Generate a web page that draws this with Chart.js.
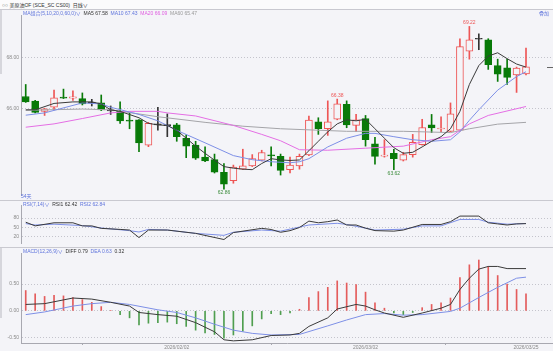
<!DOCTYPE html>
<html>
<head>
<meta charset="utf-8">
<script src="https://cdn.jsdelivr.net/npm/chart.js@4.4.1/dist/chart.umd.min.js"></script>
<style>
  body { margin:0; width:553px; height:351px; overflow:hidden; position:relative; background:#f4f4f8;
         font-family:"Liberation Sans","Noto Sans CJK SC",sans-serif; }
  canvas { position:absolute; left:0; }
  .t { position:absolute; font-size:5px; line-height:6px; white-space:nowrap; }
  .hl { position:absolute; left:0; width:553px; height:1px; background:#c9c9d0; }
  .blue { color:#5f74dc; } .dark { color:#333; } .mag { color:#e060e0; } .gray { color:#999; }
</style>
</head>
<body>
<div style="position:absolute;left:0;top:0;width:553px;height:9px;background:#fbfbfc"></div>
<div class="hl" style="top:9px"></div>
<div class="hl" style="top:200px"></div>
<div class="hl" style="top:247px"></div>
<div style="position:absolute;left:0;top:10px;width:2px;height:64px;background:#d6d6dc"></div>
<div style="position:absolute;left:0;top:248px;width:2px;height:70px;background:#d6d6dc"></div>

<canvas id="main" width="553" height="190" style="top:10px"></canvas>
<canvas id="rsi" width="553" height="48" style="top:200px"></canvas>
<canvas id="macd" width="553" height="103" style="top:248px"></canvas>

<div class="t dark" style="left:2px;top:2px">○○ 美原油OF (SCE_SC CS00) &nbsp;日线∨</div>
<div class="t" style="left:23px;top:10px"><span class="blue">MA组合(5,10,20,0,60,0)∨</span>&nbsp; <span class="dark">MA5 67.58</span>&nbsp; <span class="blue">MA10 67.43</span>&nbsp; <span class="mag">MA20 66.09</span>&nbsp; <span class="gray">MA60 65.47</span></div>
<div class="t blue" style="left:539px;top:10px">叠加</div>
<div class="t blue" style="left:21px;top:193px">54天</div>
<div class="t" style="left:23px;top:201px"><span class="blue">RSI(7,14)∨</span>&nbsp; <span class="dark">RSI1 62.42</span>&nbsp; <span class="blue">RSI2 62.84</span></div>
<div class="t" style="left:23px;top:248px"><span class="blue">MACD(12,26,9)∨</span>&nbsp; <span class="dark">DIFF 0.79</span>&nbsp; <span class="blue">DEA 0.63</span>&nbsp; <span class="dark">0.32</span></div>

<script>
// daily candles
var opens  = [66.48,66.30,65.90,66.06,66.46,66.42,66.40,66.24,66.23,65.94,65.90,65.54,65.57,64.58,65.39,65.36,65.37,64.85,64.58,64.11,
              64.01,63.52,63.19,63.64,63.77,63.99,64.18,64.14,63.62,63.77,64.20,65.49,65.22,65.59,66.17,65.35,65.62,64.63,64.15,64.26,
              63.99,64.21,64.60,65.37,65.21,65.12,65.16,68.25,68.74,68.70,67.69,67.60,67.32,67.36];
var highs  = [66.95,66.33,66.02,66.73,66.77,66.70,66.62,66.37,66.54,66.11,66.27,65.84,65.58,65.47,66.06,65.80,65.43,64.98,64.73,64.51,
              64.23,63.86,63.80,64.42,64.21,64.38,64.51,64.23,64.11,64.23,65.72,65.65,66.31,66.38,66.31,65.78,65.74,64.88,64.79,64.42,
              64.30,65.00,65.59,65.78,65.69,66.23,68.74,69.22,68.93,68.74,67.94,67.94,67.63,68.37];
var lows   = [66.25,65.84,65.74,65.96,66.40,66.33,66.15,66.11,65.93,65.78,65.43,65.22,64.32,64.52,65.16,64.91,64.73,64.09,64.02,63.93,
              63.49,62.86,63.09,63.62,63.74,63.96,63.77,63.41,63.49,63.64,64.17,65.00,64.96,65.57,65.26,65.12,64.54,63.84,64.11,63.62,
              63.96,64.11,64.58,65.07,65.10,65.10,65.13,67.94,68.31,67.54,67.07,66.95,66.64,67.32];
var closes = [66.27,65.86,66.00,66.43,66.42,66.47,66.19,66.22,65.96,65.92,65.53,65.52,64.67,65.43,65.37,65.34,64.91,64.54,64.07,63.96,
              63.52,63.05,63.72,63.77,64.05,64.29,64.16,63.59,63.80,64.14,65.56,65.22,65.49,66.19,65.37,65.57,64.79,64.14,64.18,64.05,
              64.21,64.69,65.27,65.25,65.23,65.80,68.43,68.70,68.72,67.73,67.35,67.23,67.59,67.64];

// moving averages read at [candle, value]
var ma5  = [[0,65.96],[1,65.96],[3,66.21],[5,66.27],[7,66.27],[8,66.19],[9,65.96],[10,65.90],[12,65.65],[13,65.43],[14,65.37],[15,65.35],
            [16,65.16],[17,64.85],[18,64.54],[19,64.26],[20,63.99],[21,63.74],[22,63.68],[23,63.64],[24,63.62],[25,63.86],[26,64.05],
            [27,64.00],[28,63.98],[29,64.00],[30,64.36],[31,64.73],[32,65.10],[33,65.41],[34,65.57],[35,65.53],[36,65.59],[37,65.22],
            [38,64.85],[39,64.48],[40,64.26],[41,64.30],[42,64.51],[43,64.73],[44,64.91],[45,65.22],[46,65.90],[47,66.95],[48,67.69],
            [49,68.06],[50,68.19],[51,67.96],[52,67.75],[53,67.63]];
var ma10 = [[0,65.75],[2,65.84],[6,66.23],[8,66.19],[9,66.06],[12,65.78],[14,65.53],[16,65.16],[19,64.67],[22,64.17],[24,64.01],
            [26,63.93],[28,63.89],[29,63.93],[30,64.05],[32,64.51],[34,64.85],[36,65.04],[37,65.04],[39,64.91],[41,64.79],[43,64.73],
            [45,64.79],[46,65.10],[47,65.55],[48,65.96],[50,66.73],[52,67.26],[53,67.45]];
var ma20 = [[0,65.28],[3,65.41],[6,65.62],[9,65.84],[11,65.90],[14,65.90],[15,65.84],[18,65.72],[22,65.35],[25,65.00],[27,64.75],
            [29,64.40],[32,64.38],[36,64.46],[40,64.54],[43,64.79],[45,64.91],[47,65.41],[49,65.74],[53,66.09]];
var ma60 = [[0,65.94],[6,65.99],[9,65.96],[14,65.69],[19,65.47],[23,65.32],[27,65.22],[34,65.12],[40,65.12],[45,65.07],[47,65.22],
            [50,65.40],[53,65.47]];

var rsi1 = [[0,66.8],[1,55.2],[3,65.0],[5,65.0],[6,55.2],[7,55.2],[8,47.3],[10,44.0],[11,42.0],[12,18.1],[13,42.0],[15,42.0],[18,31.4],
            [21,11.9],[22,34.0],[25,47.3],[26,43.8],[27,34.9],[28,40.0],[29,50.0],[30,70.4],[31,65.0],[32,68.6],[33,73.9],[34,58.0],
            [35,58.0],[36,48.0],[37,40.2],[39,38.5],[40,42.0],[42,59.7],[44,59.7],[45,68.6],[46,86.3],[48,86.3],[49,65.0],[50,61.5],
            [51,58.0],[52,61.5],[53,62.4]];
var rsi2 = [[0,62.4],[1,58.0],[3,60.6],[6,56.1],[8,48.5],[11,40.0],[12,35.8],[13,44.0],[15,42.0],[18,31.4],[21,25.2],[22,34.9],
            [25,42.0],[27,38.5],[30,58.0],[33,63.4],[34,59.7],[37,42.0],[40,44.7],[42,55.2],[44,55.2],[46,75.6],[48,75.6],[49,66.8],
            [51,60.6],[53,62.8]];

var diff = [[0,0.12],[2,0.135],[5,0.24],[7,0.22],[9,0.16],[11,0.09],[12,-0.03],[14,-0.07],[16,-0.10],[18,-0.22],[20,-0.39],[21,-0.54],
            [22,-0.56],[24,-0.54],[26,-0.46],[28,-0.45],[29,-0.42],[30,-0.29],[32,-0.13],[33,0.035],[35,0.12],[36,0.09],[37,0.02],
            [38,-0.04],[40,-0.12],[42,-0.04],[44,0.05],[45,0.12],[46,0.40],[47,0.61],[48,0.78],[49,0.83],[50,0.83],[51,0.79],[53,0.79]];
var dea  = [[0,-0.07],[2,-0.02],[5,0.09],[7,0.135],[9,0.16],[11,0.12],[14,0.02],[16,-0.03],[18,-0.13],[20,-0.25],[22,-0.36],[24,-0.42],
            [26,-0.45],[29,-0.44],[32,-0.28],[34,-0.17],[36,-0.07],[38,-0.05],[40,-0.08],[42,-0.07],[45,-0.01],[46,0.05],[48,0.25],
            [50,0.44],[52,0.61],[53,0.63]];
var macdBar = [0.38,0.32,0.27,0.29,0.28,0.25,0.21,0.16,0.08,0.01,-0.07,-0.13,-0.26,-0.23,-0.22,-0.21,-0.24,-0.29,-0.36,-0.41,
               -0.44,-0.51,-0.45,-0.38,-0.28,-0.15,-0.05,-0.07,-0.04,0.03,0.25,0.36,0.44,0.56,0.52,0.49,0.35,0.15,0.05,-0.04,
               -0.07,-0.03,0.06,0.12,0.15,0.24,0.62,0.86,0.95,0.83,0.66,0.50,0.40,0.32];

var priceTicks = [66, 68];
var rsiTicks = [20, 50, 80];
var macdTicks = [-0.5, 0, 0.5];
var dateTicks = [[16,'2026/02/02'], [36,'2026/03/02'], [53,'2026/03/25']];
var markLabels = [[47,69.22,'hi'], [33,66.38,'hi'], [21,62.86,'lo'], [39,63.62,'lo']];

var BG = '#f4f4f8';
var UP = '#ee5656';
var DOWN = '#087a08';
var DOJI = '#333333';
var XMAX = 55.86;
var FONT = '"Liberation Sans","Noto Sans CJK SC",sans-serif';

function candle_color(i) {
  if (closes[i] > opens[i]) return UP;
  if (opens[i] - closes[i] <= 0.02) return DOJI;
  return DOWN;
}

function pts(arr) {
  return arr.map(function(p) { return {x: p[0], y: p[1]}; });
}

function line_ds(arr, color) {
  return { type: 'line', data: pts(arr), borderColor: color, borderWidth: 1, pointRadius: 0,
           tension: 0, spanGaps: true, order: 0 };
}

function x_scale(show) {
  return { type: 'linear', min: -0.5, max: XMAX, offset: false, display: show };
}

function y_scale(min, max, ticks, fmt) {
  return {
    min: min, max: max,
    afterFit: function(s) { s.width = 21; },
    afterBuildTicks: function(s) { s.ticks = ticks.map(function(v) { return {value: v}; }); },
    ticks: { callback: fmt, font: {size: 5, family: FONT}, color: '#888', padding: 2 },
    grid: { color: '#c4c4cc', drawTicks: false },
    border: { color: '#a8a8b0', dash: [1, 2] }
  };
}

var base_opts = {
  responsive: false, animation: false,
  layout: { padding: 0 },
  plugins: { legend: { display: false }, tooltip: { enabled: false } }
};

var marks = {
  id: 'marks',
  afterDatasetsDraw: function(chart) {
    var ctx = chart.ctx, x = chart.scales.x, y = chart.scales.y;
    ctx.save();
    ctx.font = '5px ' + FONT;
    ctx.textAlign = 'center';
    markLabels.forEach(function(m) {
      var px = x.getPixelForValue(m[0]), py = y.getPixelForValue(m[1]);
      if (m[2] == 'hi') {
        ctx.fillStyle = UP; ctx.textBaseline = 'bottom';
        ctx.fillText(m[1].toFixed(2), px, py - 1);
      } else {
        ctx.fillStyle = '#3c8c3c'; ctx.textBaseline = 'top';
        ctx.fillText(m[1].toFixed(2), px, py + 1);
      }
    });
    // last price dash at the right edge
    var ly = Math.round(y.getPixelForValue(closes[closes.length - 1])) + 0.5;
    ctx.strokeStyle = '#666';
    ctx.beginPath();
    ctx.moveTo(chart.chartArea.right - 6, ly);
    ctx.lineTo(chart.chartArea.right, ly);
    ctx.stroke();
    ctx.restore();
  }
};

new Chart(document.getElementById('main'), {
  type: 'bar',
  data: {
    datasets: [
      line_ds(ma5, '#3a3a3a'),
      line_ds(ma10, '#7d8fe6'),
      line_ds(ma20, '#e46ee4'),
      line_ds(ma60, '#a4a4a8'),
      {
        data: opens.map(function(o, i) { return {x: i, y: [o, closes[i]]}; }),
        backgroundColor: opens.map(function(o, i) { return closes[i] > o ? BG : candle_color(i); }),
        borderColor: opens.map(function(o, i) { return candle_color(i); }),
        borderWidth: 1, borderSkipped: false, barThickness: 7, minBarLength: 1,
        grouped: false, order: 1
      },
      {
        data: lows.map(function(l, i) { return {x: i, y: [l, highs[i]]}; }),
        backgroundColor: lows.map(function(l, i) { return candle_color(i); }),
        borderWidth: 0, barThickness: 1, grouped: false, order: 2
      }
    ]
  },
  options: Object.assign({}, base_opts, {
    scales: {
      x: x_scale(false),
      y: y_scale(62.63, 69.667, priceTicks, function(v) { return v.toFixed(2); })
    }
  }),
  plugins: [marks]
});

new Chart(document.getElementById('rsi'), {
  type: 'line',
  data: { datasets: [ line_ds(rsi1, '#3a3a3a'), line_ds(rsi2, '#7d8fe6') ] },
  options: Object.assign({}, base_opts, {
    scales: {
      x: x_scale(false),
      y: y_scale(0.85, 121.5, rsiTicks, function(v) { return String(v); })
    }
  })
});

var macd_x = x_scale(true);
macd_x.afterBuildTicks = function(s) { s.ticks = dateTicks.map(function(d) { return {value: d[0]}; }); };
macd_x.afterFit = function(s) { s.height = 8; };
macd_x.ticks = {
  autoSkip: false, maxRotation: 0, padding: 0, font: {size: 5, family: FONT}, color: '#888',
  callback: function(v) {
    var d = dateTicks.find(function(t) { return t[0] === v; });
    return d ? d[1] : '';
  }
};
macd_x.grid = { drawOnChartArea: false, tickLength: 2, color: '#a8a8b0' };
macd_x.border = { color: '#a8a8b0' };

new Chart(document.getElementById('macd'), {
  type: 'bar',
  data: {
    datasets: [
      line_ds(diff, '#3a3a3a'),
      line_ds(dea, '#7d8fe6'),
      {
        data: macdBar.map(function(v, i) { return {x: i, y: v}; }),
        backgroundColor: macdBar.map(function(v) { return v >= 0 ? '#e45c5c' : '#4f9e4f'; }),
        borderWidth: 0, barThickness: 1, grouped: false, order: 1
      }
    ]
  },
  options: Object.assign({}, base_opts, {
    scales: {
      x: macd_x,
      y: y_scale(-0.6, 1.081, macdTicks, function(v) { return v.toFixed(2); })
    }
  })
});
</script>
</body>
</html>
